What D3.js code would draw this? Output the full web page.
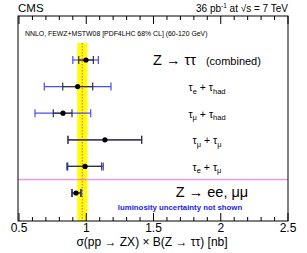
<!DOCTYPE html>
<html>
<head>
<meta charset="utf-8">
<script src="https://cdn.jsdelivr.net/npm/d3@7"></script>
<style>
  body { margin: 0; background: #fff; }
  text { font-family: "Liberation Sans", Arial, sans-serif; }
</style>
</head>
<body>
<div id="chart"></div>
<script>
// measurements (nb)
const channels = ["combined", "etau", "mutau", "mumu", "emu", "eemumu"];
const central = [0.998, 0.936, 0.827, 1.139, 0.991, 0.924];
const statLo = [0.944, 0.825, 0.755, 0.864, 0.862, 0.896];
const statHi = [1.053, 1.048, 0.894, 1.412, 1.115, 0.959];
const totLo = [0.900, 0.688, 0.619, 0.864, 0.855, 0.891];
const totHi = [1.090, 1.184, 1.033, 1.412, 1.127, 0.966];
const theory = 0.97;
const theoryErr = [0.933, 1.008];
const xTicks = [0.5, 1, 1.5, 2, 2.5];

const W = 307, H = 253;
const frame = { left: 18, right: 288, top: 16, bottom: 221 };

const svg = d3.select("#chart").append("svg")
    .attr("width", W).attr("height", H);

const x = d3.scaleLinear().domain([0.5, 2.5]).range([19, 288]);
const y = d3.scaleLinear().domain([0, 5]).range([60, 193]);

// theory band
svg.append("rect")
    .attr("x", x(theoryErr[0])).attr("y", 43)
    .attr("width", x(theoryErr[1]) - x(theoryErr[0]))
    .attr("height", frame.bottom - 43)
    .attr("fill", "#ffff00");
svg.append("line")
    .attr("x1", x(theory)).attr("x2", x(theory))
    .attr("y1", 43).attr("y2", frame.bottom)
    .attr("stroke", "#ff33ff").attr("stroke-width", 1)
    .attr("stroke-dasharray", "1.5,1.5");

// separator
svg.append("line")
    .attr("x1", frame.left).attr("x2", frame.right)
    .attr("y1", y(4.5)).attr("y2", y(4.5))
    .attr("stroke", "#ff66ff").attr("stroke-width", 1);

// error bars
function errBar(lo, hi, color, cap) {
    const g = svg.append("g");
    channels.forEach((c, i) => {
        const yy = y(i);
        g.append("line").attr("x1", x(lo[i])).attr("x2", x(hi[i]))
            .attr("y1", yy).attr("y2", yy)
            .attr("stroke", color).attr("stroke-width", 1.2);
        [lo[i], hi[i]].forEach(v => {
            g.append("line").attr("x1", x(v)).attr("x2", x(v))
                .attr("y1", yy - cap).attr("y2", yy + cap)
                .attr("stroke", color).attr("stroke-width", 1.2);
        });
    });
}
errBar(totLo, totHi, "#4a4aff", 4);
errBar(statLo, statHi, "#333333", 4);

svg.append("g").selectAll("circle")
    .data(central)
    .enter().append("circle")
    .attr("cx", d => x(d)).attr("cy", (d, i) => y(i))
    .attr("r", 2.6).attr("fill", "#000");

// frame
svg.append("rect")
    .attr("x", frame.left).attr("y", frame.top)
    .attr("width", frame.right - frame.left).attr("height", frame.bottom - frame.top)
    .attr("fill", "none").attr("stroke", "#000").attr("stroke-width", 1);

// ticks
const minor = d3.range(0.5, 2.5001, 0.1);
minor.forEach(v => {
    const major = xTicks.some(t => Math.abs(t - v) < 1e-6);
    const len = major ? 8 : 4;
    svg.append("line").attr("x1", x(v)).attr("x2", x(v))
        .attr("y1", frame.bottom).attr("y2", frame.bottom - len).attr("stroke", "#000");
    svg.append("line").attr("x1", x(v)).attr("x2", x(v))
        .attr("y1", frame.top).attr("y2", frame.top + len).attr("stroke", "#000");
});
svg.append("g").selectAll("text")
    .data(xTicks).enter().append("text")
    .attr("x", d => x(d)).attr("y", 231.5)
    .attr("text-anchor", "middle").attr("font-size", 12)
    .text(d => d);

// axis title
svg.append("text")
    .attr("x", 152).attr("y", 245.5)
    .attr("text-anchor", "middle").attr("font-size", 12)
    .text("σ(pp → ZX) × B(Z → ττ)  [nb]");

// header
svg.append("text").attr("x", 18).attr("y", 12)
    .attr("font-size", 11.5).text("CMS");
const hdr = svg.append("text").attr("x", 288).attr("y", 12)
    .attr("text-anchor", "end").attr("font-size", 10);
hdr.append("tspan").text("36 pb");
hdr.append("tspan").attr("dy", -4).attr("font-size", 6.5).text("-1");
hdr.append("tspan").attr("dy", 4).text(" at √s = 7 TeV");

svg.append("text").attr("x", 25).attr("y", 36)
    .attr("font-size", 6.9).text("NNLO, FEWZ+MSTW08 [PDF4LHC 68% CL] (60-120 GeV)");

// row labels
const comb = svg.append("text").attr("x", 153).attr("y", y(0) + 5);
comb.append("tspan").attr("font-size", 14.5).text("Z → ττ");
comb.append("tspan").attr("font-size", 11).attr("dx", 10).text("(combined)");

const subLabels = [null, ["e", "had"], ["μ", "had"], ["μ", "μ"], ["e", "μ"]];
subLabels.forEach((s, i) => {
    if (!s) return;
    const t = svg.append("text").attr("x", 207).attr("y", y(i) + 4.5)
        .attr("text-anchor", "middle").attr("font-size", 10.5);
    t.append("tspan").text("τ");
    t.append("tspan").attr("dy", 2.5).attr("font-size", 7.5).text(s[0]);
    t.append("tspan").attr("dy", -2.5).text(" + τ");
    t.append("tspan").attr("dy", 2.5).attr("font-size", 7.5).text(s[1]);
});

svg.append("text").attr("x", 212).attr("y", y(5) + 4)
    .attr("text-anchor", "middle").attr("font-size", 14.5)
    .text("Z → ee, μμ");
svg.append("text").attr("x", 180).attr("y", 210)
    .attr("text-anchor", "middle").attr("font-size", 7.8)
    .attr("font-weight", "bold").attr("fill", "#2222ee")
    .text("luminosity uncertainty not shown");
</script>
</body>
</html>
